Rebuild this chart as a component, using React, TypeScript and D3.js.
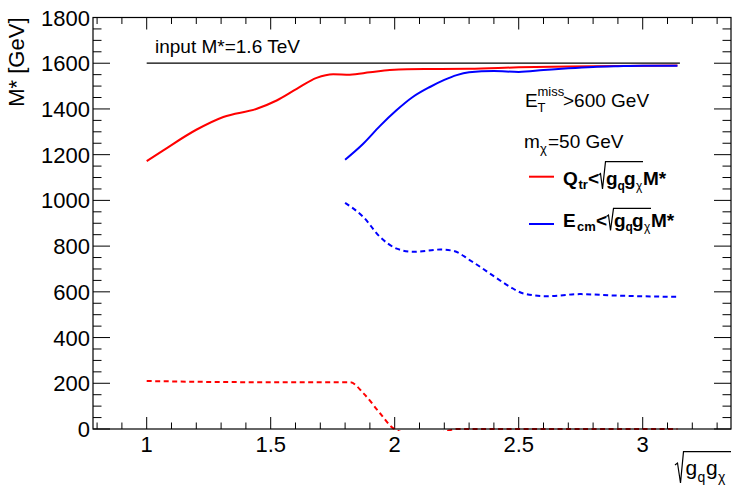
import React from "react";
import * as d3 from "d3";

// ---- data ----
const xTicksMajor = [1, 1.5, 2, 2.5, 3];
const xTickLabels = ["1", "1.5", "2", "2.5", "3"];
const yTicksMajor = [0, 200, 400, 600, 800, 1000, 1200, 1400, 1600, 1800];

const refX = [1.0, 3.15];
const refY = [1600, 1600];

const qtrSolidX = [1.0, 1.067, 1.2, 1.309, 1.444, 1.524, 1.605, 1.685, 1.752, 1.819, 1.9, 1.98, 2.05, 2.15, 2.3, 2.5, 2.7, 2.9, 3.14];
const qtrSolidY = [1172, 1219, 1309, 1365, 1401, 1437, 1488, 1536, 1552, 1550, 1560, 1570, 1574, 1575, 1576, 1582, 1586, 1588, 1590];

const qtrDashX = [1.0, 1.403, 1.82, 1.874, 1.94, 1.995, 2.1, 2.2, 2.25, 2.4, 2.6, 2.8, 3.0, 3.14];
const qtrDashY = [210, 205, 205, 156, 70, 3, -30, -12, 0, 0, 0, 0, 0, 0];

const ecmSolidX = [1.8, 1.873, 1.94, 2.007, 2.07, 2.142, 2.2, 2.25, 2.3, 2.4, 2.5, 2.6, 2.7, 2.8, 2.9, 3.0, 3.14];
const ecmSolidY = [1178, 1248, 1325, 1394, 1450, 1496, 1527, 1548, 1560, 1566, 1562, 1570, 1578, 1584, 1587, 1589, 1589];

const ecmDashX = [1.8, 1.874, 1.941, 2.008, 2.075, 2.184, 2.237, 2.304, 2.384, 2.465, 2.519, 2.613, 2.747, 2.882, 3.14];
const ecmDashY = [989, 927, 840, 789, 775, 785, 779, 738, 680, 622, 593, 581, 590, 584, 578];

const FONT = "'Liberation Sans', Arial, Helvetica, sans-serif";

export default function App() {
  const L = 93, R = 731, T = 17.5, B = 429;
  const x = d3.scaleLinear().domain([0.7835, 3.356]).range([L, R]);
  const y = d3.scaleLinear().domain([0, 1800]).range([B, T]);

  const mk = (xs: number[], ys: number[]) =>
    d3.line<number>()
      .x((_, i) => x(xs[i]))
      .y((d) => y(d))
      .curve(d3.curveMonotoneX)(ys) || "";

  const xMinor = d3.range(8, 34).map((v) => v / 10).filter((v) => x(v) > L && x(v) < R);
  const yMinor = d3.range(0, 1801, 50);

  return (
    <div style={{ position: "absolute", left: 0, top: 0 }}>
      <svg width={732} height={490} style={{ display: "block", background: "#fff" }} fontFamily={FONT}>
        <defs>
          <clipPath id="plot">
            <rect x={L} y={T} width={R - L} height={B - T + 2} />
          </clipPath>
        </defs>
        <rect x={0} y={0} width={732} height={490} fill="#fff" />

        {/* x ticks bottom & top */}
        {xMinor.map((v, i) => {
          const major = xTicksMajor.some((m) => Math.abs(m - v) < 1e-6);
          const len = major ? 12 : 6.5;
          return (
            <g key={"xt" + i} stroke="#000" strokeWidth={1}>
              <line x1={x(v)} x2={x(v)} y1={B} y2={B - len} />
              <line x1={x(v)} x2={x(v)} y1={T} y2={T + len} />
            </g>
          );
        })}
        {/* y ticks left & right */}
        {yMinor.map((v, i) => {
          const major = v % 200 === 0;
          const len = major ? 17 : 8.5;
          return (
            <g key={"yt" + i} stroke="#000" strokeWidth={1}>
              <line x1={L} x2={L + len} y1={y(v)} y2={y(v)} />
              <line x1={R} x2={R - len} y1={y(v)} y2={y(v)} />
            </g>
          );
        })}

        {/* tick labels */}
        {xTicksMajor.map((v, i) => (
          <text key={"xl" + i} x={x(v)} y={452} textAnchor="middle" fontSize={22}>
            {xTickLabels[i]}
          </text>
        ))}
        {yTicksMajor.map((v, i) => (
          <text key={"yl" + i} x={L - 3} y={y(v) + 8} textAnchor="end" fontSize={22}>
            {v}
          </text>
        ))}

        {/* axis titles */}
        <text transform={`translate(24,${T}) rotate(-90)`} textAnchor="end" fontSize={22}>
          M* [GeV]
        </text>
        <path d="M675,465 L677.5,463 L680.5,483 L683.5,451.7 H731" fill="none" stroke="#000" strokeWidth={1.2} />
        <text x={685.5} y={475} fontSize={21}>g</text>
        <text x={697.5} y={482} fontSize={14}>q</text>
        <text x={706} y={475} fontSize={21}>g</text>
        <text x={718} y={482} fontSize={14}>χ</text>

        {/* reference line */}
        <path d={mk(refX, refY)} fill="none" stroke="#000" strokeWidth={1.2} />
        <text x={155} y={53} fontSize={19}>input M*=1.6 TeV</text>

        {/* curves */}
        <g clipPath="url(#plot)" fill="none" strokeWidth={2}>
          <path d={mk(qtrSolidX, qtrSolidY)} stroke="#ff0000" />
          <path d={mk(ecmSolidX, ecmSolidY)} stroke="#0000ff" />
          <path d={mk(ecmDashX, ecmDashY)} stroke="#0000ff" strokeDasharray="5,3.5" />
          <path d={mk(qtrDashX, qtrDashY)} stroke="#ff0000" strokeDasharray="5,3.5" />
        </g>

        {/* frame */}
        <rect x={L} y={T} width={R - L} height={B - T} fill="none" stroke="#000" strokeWidth={1.2} />

        {/* annotations */}
        <text x={525} y={106.7} fontSize={19}>E</text>
        <text x={537.5} y={96} fontSize={13}>miss</text>
        <text x={537.5} y={111.7} fontSize={13}>T</text>
        <text x={563} y={106.7} fontSize={19}>&gt;600 GeV</text>

        <text x={524} y={148.3} fontSize={19}>m</text>
        <text x={540} y={153} fontSize={13}>χ</text>
        <text x={548} y={148.3} fontSize={19}>=50 GeV</text>

        {/* legend entry 1 */}
        <line x1={529} x2={554} y1={176.7} y2={176.7} stroke="#ff0000" strokeWidth={2} />
        <g fontWeight="bold">
          <text x={563} y={185} fontSize={19}>Q</text>
          <text x={578.5} y={189} fontSize={13}>tr</text>
          <text x={588} y={185} fontSize={19}>&lt;</text>
          <text x={606} y={185} fontSize={19}>g</text>
          <text x={617.5} y={189.5} fontSize={12}>q</text>
          <text x={624} y={185} fontSize={19}>g</text>
          <text x={636} y={189.5} fontSize={12} fontWeight="normal">χ</text>
          <text x={643} y={185} fontSize={19}>M*</text>
        </g>
        <path d="M598.5,175 L600.5,173.5 L602.5,189 L605.5,161.7 H643" fill="none" stroke="#000" strokeWidth={1.2} />

        {/* legend entry 2 */}
        <line x1={529} x2={554} y1={224} y2={224} stroke="#0000ff" strokeWidth={2} />
        <g fontWeight="bold">
          <text x={563} y={226.5} fontSize={19}>E</text>
          <text x={577} y={230.5} fontSize={13}>cm</text>
          <text x={596} y={226.5} fontSize={19}>&lt;</text>
          <text x={614} y={226.5} fontSize={19}>g</text>
          <text x={625.5} y={231} fontSize={12}>q</text>
          <text x={632} y={226.5} fontSize={19}>g</text>
          <text x={644} y={231} fontSize={12} fontWeight="normal">χ</text>
          <text x={651} y={226.5} fontSize={19}>M*</text>
        </g>
        <path d="M606.5,216.5 L608.5,215 L610.5,230.5 L613.5,208.3 H651" fill="none" stroke="#000" strokeWidth={1.2} />
      </svg>
    </div>
  );
}
